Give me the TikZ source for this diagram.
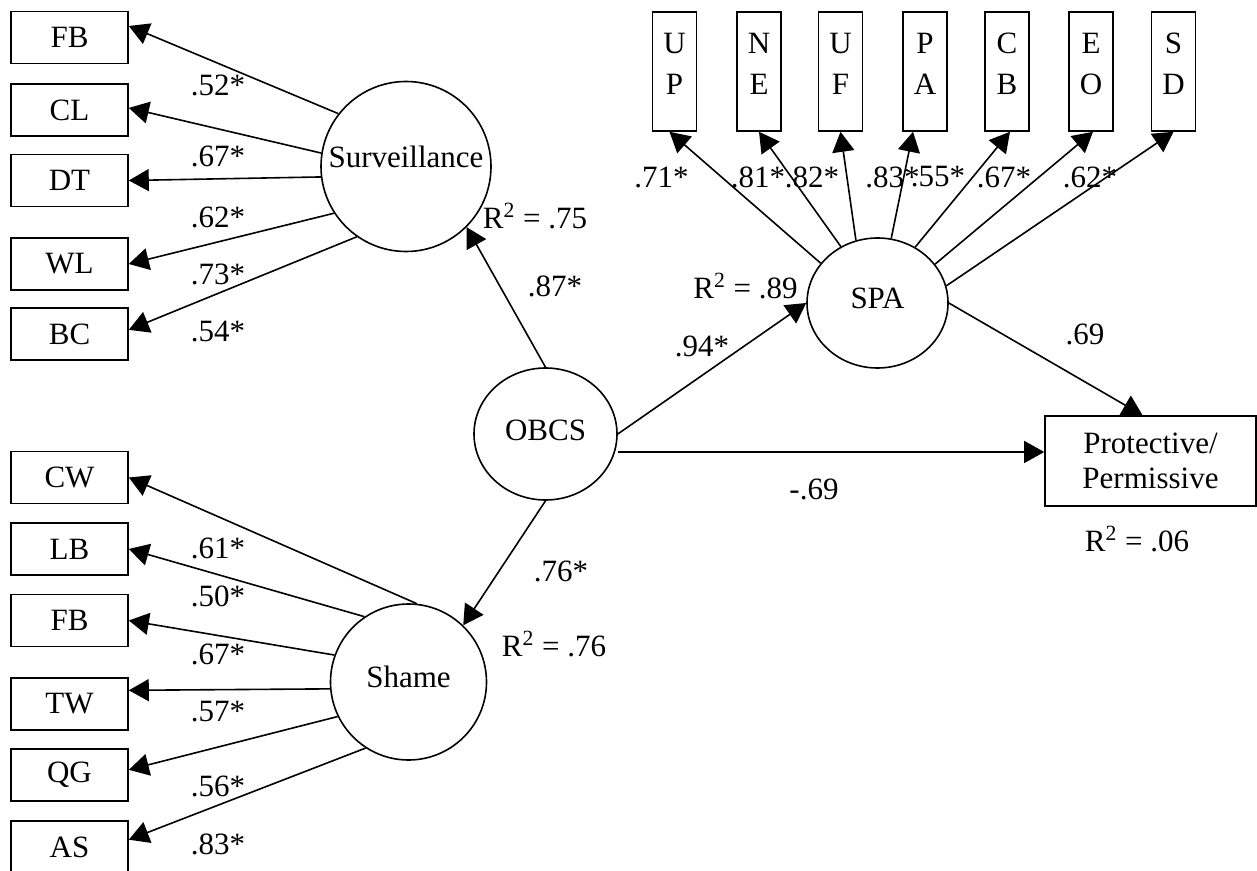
\documentclass[tikz,border=0pt]{standalone}
\usepackage{fontspec}
\setmainfont{Liberation Serif}
\usetikzlibrary{arrows.meta,shapes.geometric,calc}
\begin{document}
\begin{tikzpicture}[x=0.5pt,y=-0.5pt,
  txt/.style={font=\fontsize{15.5}{18}\selectfont},
  box/.style={draw,line width=0.8pt,rectangle,minimum width=58.5pt,minimum height=26pt,inner sep=0pt,txt},
  vbox/.style={draw,line width=0.8pt,rectangle,minimum width=22pt,minimum height=59.5pt,inner sep=0pt},
  vtxt/.style={inner sep=0pt,align=center,font=\fontsize{15.5}{20.25}\selectfont},
  lat/.style={draw,line width=0.8pt,circle,inner sep=0pt,txt},
  ell/.style={draw,line width=0.8pt,ellipse,inner sep=0pt,txt},
  lbl/.style={inner sep=0pt,txt},
  arr/.style={line width=0.8pt,-{Triangle[length=10pt,width=11pt]}}]
\useasboundingbox (0,0) rectangle (1257,871);
\clip (0,0) rectangle (1257,871);

% Surveillance indicators
\node[box] (sFB) at (69.5,37.5) {FB};
\node[box] (sCL) at (69.5,110) {CL};
\node[box] (sDT) at (69.5,180.5) {DT};
\node[box] (sWL) at (69.5,264) {WL};
\node[box] (sBC) at (69.5,334) {BC};

% Shame indicators
\node[box] (hCW) at (69.5,477.5) {CW};
\node[box] (hLB) at (69.5,549) {LB};
\node[box] (hFB) at (69.5,620.5) {FB};
\node[box] (hTW) at (69.5,704) {TW};
\node[box] (hQG) at (69.5,775) {QG};
\node[box] (hAS) at (69.5,847) {AS};

% SPA indicators
\foreach \n/\a/\b/\x in {UP/U/P/674.5, NE/N/E/759, UF/U/F/840.5, PA/P/A/925, CB/C/B/1007, EO/E/O/1091, SD/S/D/1173.5}{
  \node[vbox] (\n) at (\x,71.5) {};
  \node[vtxt] (t\n) at (\x,64) {\a\\\b};
}

% latent variables
\node[lat,minimum size=85pt,text depth=9.5pt] (surv) at (406,166.5) {Surveillance};
\node[lat,minimum size=78pt,text depth=5pt] (shame) at (408.5,682) {Shame};
\node[ell,minimum width=71.5pt,minimum height=66pt,text depth=4pt] (obcs) at (545.5,434) {OBCS};
\node[ell,minimum width=70.5pt,minimum height=65pt,text depth=5pt] (spa) at (877.5,303) {SPA};
\node[draw,line width=0.8pt,rectangle,minimum width=105.5pt,minimum height=45pt,inner sep=0pt,align=center,font=\fontsize{15.5}{17.5}\selectfont] (prot) at (1150.5,461) {Protective/\\Permissive};

% Surveillance loadings
\draw[arr] (surv.142) -- (sFB.11);
\draw[arr] (surv.171) -- (sCL.2);
\draw[arr] (surv.187) -- (sDT.east);
\draw[arr] (surv.213) -- (sWL.east);
\draw[arr] (surv.235) -- (sBC.4);

% Shame loadings
\draw[arr] (shame.84) -- (hCW.east);
\draw[arr] (shame.124) -- (hLB.east);
\draw[arr] (shame.160) -- (hFB.east);
\draw[arr] (shame.185) -- (hTW.13);
\draw[arr] (shame.206) -- (hQG.5);
\draw[arr] (shame.237) -- (hAS.7);

% SPA loadings
\draw[arr] (spa.145) -- ($(UP.south)+(-5,0)$);
\draw[arr] (spa.123) -- (NE.south);
\draw[arr] (spa.109) -- (UF.south);
\draw[arr] (spa.78) -- ($(PA.south)+(-12,0)$);
\draw[arr] (spa.56) -- ($(CB.south)+(3,0)$);
\draw[arr] (spa.34) -- ($(EO.south)+(2,0)$);
\draw[arr] (spa.14) -- (SD.south);

% structural paths
\coordinate (pw) at ($(prot.west)+(0,-9)$);
\draw[arr] (obcs.north) -- (surv.-45);
\draw[arr] (obcs.south) -- (shame.46);
\draw[arr] (obcs.east) -- (spa.west);
\draw[arr] (obcs.east |- pw) -- (pw);
\draw[arr] (spa.east) -- ($(prot.north)+(-8,0)$);

% labels: Surveillance
\node[lbl] (l1) at (218,85) {.52*};
\node[lbl] (l2) at (218,156) {.67*};
\node[lbl] (l3) at (218,217) {.62*};
\node[lbl] (l4) at (218,274) {.73*};
\node[lbl] (l5) at (218,332) {.54*};
% labels: Shame
\node[lbl] (m1) at (218,548) {.61*};
\node[lbl] (m2) at (218,596) {.50*};
\node[lbl] (m3) at (218,654) {.67*};
\node[lbl] (m4) at (218,712) {.57*};
\node[lbl] (m5) at (218,786) {.56*};
\node[lbl] (m6) at (218,844) {.83*};
% labels: SPA
\node[lbl] (n1) at (661.5,177) {.71*};
\node[lbl] (n2) at (758,177) {.81*};
\node[lbl] (n3) at (812,177) {.82*};
\node[lbl] (n4) at (892.5,177) {.83*};
\node[lbl] (n5) at (938,177) {.55*};
\node[lbl] (n6) at (1004,177) {.67*};
\node[lbl] (n7) at (1090,177) {.62*};
% structural labels
\node[lbl] (r1) at (535,216) {R\textsuperscript{2} = .75};
\node[lbl] (p1) at (555,286) {.87*};
\node[lbl] (r2) at (745.5,286) {R\textsuperscript{2} = .89};
\node[lbl] (p2) at (702,346) {.94*};
\node[lbl] (p3) at (1085,334) {.69};
\node[lbl] (p4) at (814,489) {-.69};
\node[lbl] (r3) at (1137,539) {R\textsuperscript{2} = .06};
\node[lbl] (p5) at (561,571) {.76*};
\node[lbl] (r4) at (554,644) {R\textsuperscript{2} = .76};
\end{tikzpicture}
\end{document}
